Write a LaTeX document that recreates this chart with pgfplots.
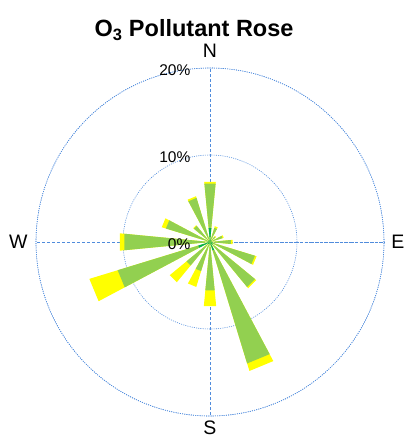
\documentclass[border=0pt]{standalone}
\usepackage{pgfplots}
\pgfplotsset{compat=1.18}
\usepgfplotslibrary{polar}
\usepackage{fontspec}
\setmainfont{Liberation Sans}
\definecolor{roseY}{RGB}{255,255,0}
\definecolor{roseG}{RGB}{146,208,80}
\definecolor{roseD}{RGB}{0,176,80}
\definecolor{gridblue}{RGB}{80,140,220}
% #1 compass direction (deg), #2 top of dark green, #3 top of light green, #4 total (percent)
\newcommand{\petal}[4]{%
  \pgfmathsetmacro\aA{90-#1-5.5}%
  \pgfmathsetmacro\aB{90-#1+5.5}%
  \edef\tmp{%
    \noexpand\addplot[fill=roseY,draw=none] coordinates {(0,0) (\aA,#4) (\aB,#4) (0,0)};
    \noexpand\addplot[fill=roseG,draw=none] coordinates {(0,0) (\aA,#3) (\aB,#3) (0,0)};
    \noexpand\addplot[fill=roseD,draw=none] coordinates {(0,0) (\aA,#2) (\aB,#2) (0,0)};
  }\tmp}
\begin{document}
\begin{tikzpicture}
\begin{polaraxis}[
  scale only axis, width=348bp, height=348bp,
  ymin=0, ymax=20,
  xtick={0,90,180,270}, ytick={10,20},
  xticklabel=\empty, yticklabel=\empty,
  major tick length=0pt,
  grid=major,
  x grid style={draw=gridblue, line width=0.6bp, dash pattern=on 3bp off 2bp},
  y grid style={draw=gridblue, line width=0.6bp, dash pattern=on 1bp off 1.2bp},
  axis line style={draw=gridblue, line width=0.6bp, dash pattern=on 1bp off 1.2bp},
  clip=false,
]
\petal{0}{1.6}{6.75}{6.93}
\petal{22.5}{0.3}{1.7}{1.9}
\petal{45}{0.2}{0.8}{0.9}
\petal{67.5}{0.2}{1.5}{1.65}
\petal{90}{0.3}{2.4}{2.6}
\petal{112.5}{0.4}{5.4}{5.6}
\petal{135}{0.4}{6.7}{6.9}
\petal{157.5}{1.0}{14.6}{15.5}
\petal{180}{0.4}{5.6}{7.4}
\petal{202.5}{0.3}{3.5}{5.4}
\petal{225}{0.3}{3.5}{6.0}
\petal{247.5}{1.4}{11.1}{14.5}
\petal{270}{0.4}{9.9}{10.4}
\petal{292.5}{0.3}{5.3}{5.8}
\petal{315}{0.2}{2.4}{2.5}
\petal{337.5}{0.3}{5.3}{5.5}
\coordinate (ctr) at (axis cs:0,0);
\node[anchor=east, font=\fontsize{15.5bp}{18bp}\selectfont, inner sep=0pt] at ([xshift=-19.5bp,yshift=-2bp]axis cs:90,20) {20\%};
\node[anchor=east, font=\fontsize{15.5bp}{18bp}\selectfont, inner sep=0pt] at ([xshift=-19.5bp,yshift=-2bp]axis cs:90,10) {10\%};
\node[anchor=east, font=\fontsize{15.5bp}{18bp}\selectfont, inner sep=0pt] at ([xshift=-19.5bp,yshift=-2bp]axis cs:0,0) {0\%};
\node[font=\fontsize{19.5bp}{22bp}\selectfont, inner sep=0pt] at (axis cs:90,22.03) {N};
\node[font=\fontsize{19.5bp}{22bp}\selectfont, inner sep=0pt] at (axis cs:0,21.6) {E};
\node[font=\fontsize{19.5bp}{22bp}\selectfont, inner sep=0pt] at (axis cs:180,22.03) {W};
\node[font=\fontsize{19.5bp}{22bp}\selectfont, inner sep=0pt] at (axis cs:270,21.35) {S};
\end{polaraxis}
\node[anchor=base, font=\bfseries\fontsize{23.5bp}{27bp}\selectfont, inner sep=0pt] at ([xshift=-16bp,yshift=205.3bp]ctr) {O\textsubscript{3} Pollutant Rose};
\pgfresetboundingbox
\path (ctr) ++(-210bp,242bp) rectangle ++(409bp,-439bp);
\end{tikzpicture}
\end{document}
